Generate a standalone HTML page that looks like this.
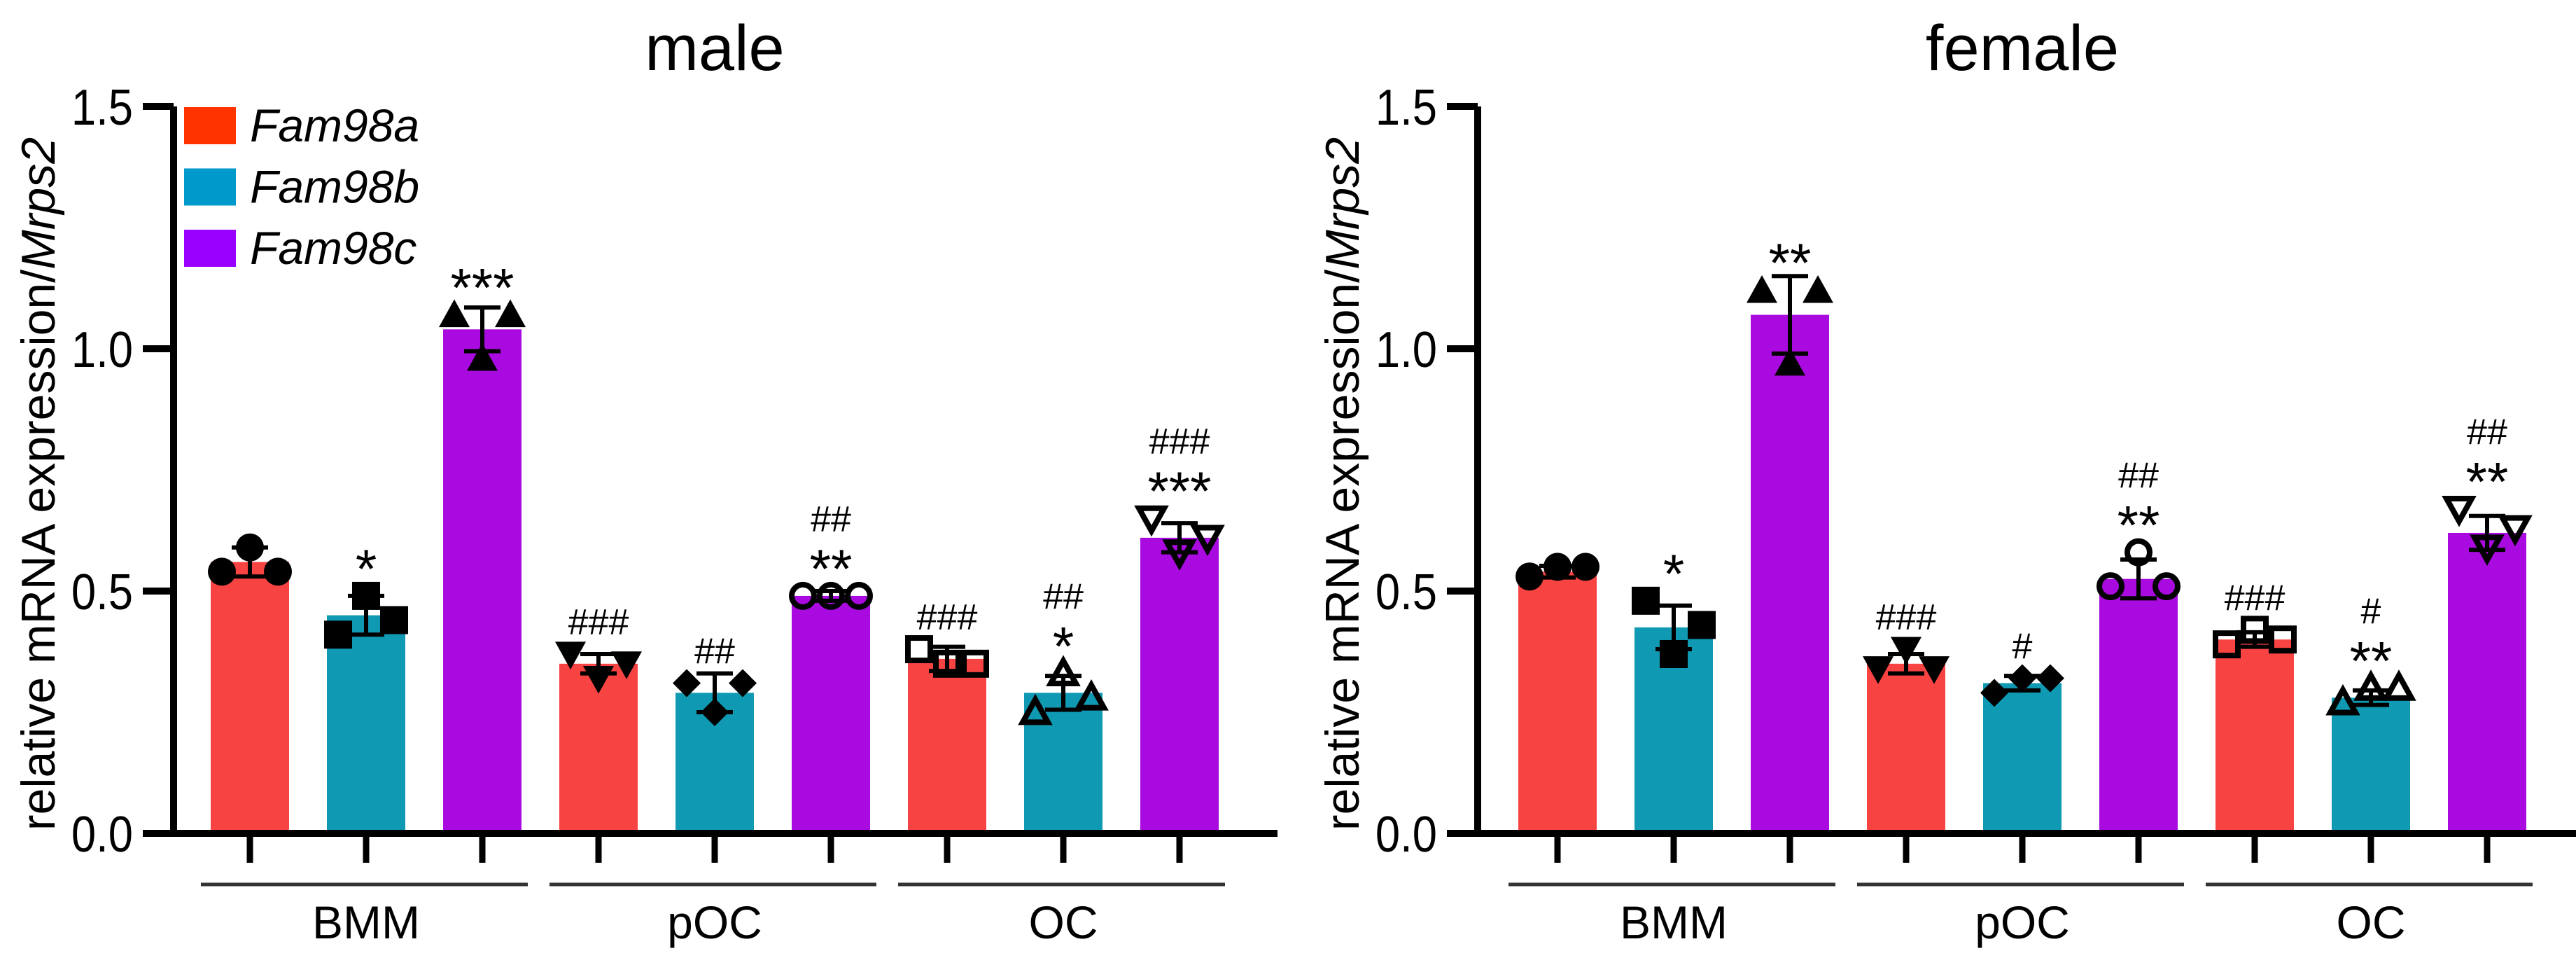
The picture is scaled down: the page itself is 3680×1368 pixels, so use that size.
<!DOCTYPE html>
<html><head><meta charset="utf-8"><style>
html,body{margin:0;padding:0;background:#fff}
svg{display:block}
text{font-family:"Liberation Sans",sans-serif}
</style></head><body>
<svg id="chart" width="3680" height="1368" viewBox="0 0 3680 1368" xmlns="http://www.w3.org/2000/svg"></svg>
<script>
const categories = ["BMM","BMM","BMM","pOC","pOC","pOC","OC","OC","OC"];
const genes = ["Fam98a","Fam98b","Fam98c"];
const groups = ["BMM","pOC","OC"];
const yTicks = [0.0,0.5,1.0,1.5];
const yTickLabels = ["0.0","0.5","1.0","1.5"];
const maleMeans = [0.56,0.45,1.04,0.35,0.29,0.49,0.36,0.29,0.61];
const maleSd = [0.03,0.04,0.045,0.02,0.04,0.01,0.025,0.035,0.03];
const malePoints = [[0.54,0.59,0.54],[0.41,0.49,0.44],[1.07,0.98,1.07],[0.37,0.32,0.35],[0.31,0.25,0.31],[0.49,0.49,0.49],[0.38,0.35,0.35],[0.25,0.33,0.28],[0.65,0.58,0.61]];
const maleStars = ["","*","***","","","**","","*","***"];
const maleHash = ["","","","###","##","##","###","##","###"];
const femaleMeans = [0.54,0.425,1.07,0.35,0.31,0.525,0.40,0.28,0.62];
const femaleSd = [0.012,0.045,0.08,0.02,0.015,0.04,0.015,0.015,0.035];
const femalePoints = [[0.53,0.55,0.55],[0.48,0.37,0.43],[1.12,0.97,1.12],[0.34,0.38,0.34],[0.29,0.32,0.32],[0.51,0.58,0.51],[0.39,0.42,0.40],[0.27,0.30,0.30],[0.67,0.59,0.63]];
const femaleStars = ["","*","**","","","**","","**","**"];
const femaleHash = ["","","","###","#","##","###","#","##"];

const NS="http://www.w3.org/2000/svg";
const svg=document.getElementById('chart');
function el(tag,attrs,parent){const e=document.createElementNS(NS,tag);for(const k in attrs)e.setAttribute(k,attrs[k]);(parent||svg).appendChild(e);return e;}
const barColors=["#f84343","#1099b3","#a90ae0"];
const legendColors=["#ff3300","#0099cc","#9900ff"];
const markerShapes=["circle","square","triUp","triDown","diamond","circleO","squareO","triUpO","triDownO"];

function marker(g,shape,x,y){
  const s=20; const fill=shape.endsWith("O")?"none":"#000"; const sw=shape.endsWith("O")?8:0;
  const base=shape.replace("O","");
  let m;
  if(base==="circle"){m=el('circle',{cx:x,cy:y,r:s-(sw/2),fill:fill,stroke:"#000","stroke-width":sw},g);}
  else if(base==="square"){const h=s-sw/2;m=el('rect',{x:x-h,y:y-h,width:2*h,height:2*h,fill:fill,stroke:"#000","stroke-width":sw},g);}
  else if(base==="triUp"){const h=s+2-sw/2;m=el('polygon',{points:`${x},${y-h} ${x+h},${y+h*0.8} ${x-h},${y+h*0.8}`,fill:fill,stroke:"#000","stroke-width":sw},g);}
  else if(base==="triDown"){const h=s+2-sw/2;m=el('polygon',{points:`${x},${y+h} ${x+h},${y-h*0.8} ${x-h},${y-h*0.8}`,fill:fill,stroke:"#000","stroke-width":sw},g);}
  else {m=el('polygon',{points:`${x},${y-s} ${x+s},${y} ${x},${y+s} ${x-s},${y}`,fill:fill},g);}
  
  
}

function panel(name,title,axisX,firstX,means,sds,points,stars,hashes,legend){
  const g=el('g',{});
  
  
  const y0=1190,y1=152,step=166,bw=112;
  const yS=v=>y0-(v/1.5)*(y0-y1);
  const xS=i=>firstX+i*step;
  const xEnd=xS(8)+140;
  const t=el('text',{x:xS(4),y:100,'font-size':92,'text-anchor':'middle',fill:'#000'},g);t.textContent=title;
  
  means.forEach((m,i)=>{
    const r=el('rect',{x:xS(i)-bw/2,y:yS(m),width:bw,height:y0-yS(m),fill:barColors[i%3]},g);
    
    
  });
  means.forEach((m,i)=>{
    const x=xS(i),a=yS(m+sds[i]),b=yS(m-sds[i]);
    const e=el('path',{d:`M${x} ${a}V${b}M${x-26} ${a}H${x+26}M${x-26} ${b}H${x+26}`,stroke:'#000','stroke-width':6,fill:'none'},g);
    
    
  });
  points.forEach((p,i)=>{p.forEach((v,j)=>marker(g,markerShapes[i],xS(i)+(j-1)*40,yS(v)));});
  means.forEach((m,i)=>{
    const top2=Math.min(yS(m+sds[i]),...points[i].map(v=>yS(v)-20));
    let base=top2-8;
    if(stars[i]){const s=el('text',{x:xS(i),y:base+16,'font-size':78,'text-anchor':'middle',fill:'#000'},g);s.textContent=stars[i];
      base-=64;}
    if(hashes[i]){const h=el('text',{x:xS(i),y:base,'font-size':52,'text-anchor':'middle',fill:'#000'},g);h.textContent=hashes[i];
      }
  });
  const ax=el('path',{d:`M${axisX} ${y1}V${y0+5}M${axisX-44} ${y0}H${xEnd}`,stroke:'#000','stroke-width':10,fill:'none'},g);
  
  yTicks.forEach((v,k)=>{
    const tk=el('line',{x1:axisX-44,x2:axisX,y1:yS(v),y2:yS(v),stroke:'#000','stroke-width':10},g);
    
    const tl=el('text',{x:axisX-58,y:yS(v)+26,'font-size':72,'text-anchor':'end',fill:'#000','transform':`translate(${axisX-58} 0) scale(0.88 1) translate(${-(axisX-58)} 0)`},g);
    tl.textContent=yTickLabels[k];
  });
  categories.forEach((c,i)=>{
    const tk=el('line',{x1:xS(i),x2:xS(i),y1:y0,y2:y0+42,stroke:'#000','stroke-width':9},g);
    
  });
  groups.forEach((gr,k)=>{
    const xa=xS(k*3)-70,xb=xS(k*3+2)+65;
    const ln=el('line',{x1:xa,x2:xb,y1:1263,y2:1263,stroke:'#333','stroke-width':5},g);
    
    const gl=el('text',{x:xS(k*3+1),y:1340,'font-size':66,'text-anchor':'middle',fill:'#000'},g);
    gl.textContent=gr;
  });
  const cy=(y0+y1)/2+20;
  const yt=el('text',{x:0,y:0,'font-size':68,'text-anchor':'middle',fill:'#000',transform:`translate(${axisX-170} ${cy}) rotate(-90)`},g);
  
  yt.appendChild(document.createTextNode('relative mRNA expression/'));
  const it=el('tspan',{'font-style':'italic'},yt);it.textContent='Mrps2';
  if(legend){
    genes.forEach((gn,k)=>{
      const ly=153+k*87.5;
      const sq=el('rect',{x:263,y:ly,width:74,height:53,fill:legendColors[k]},g);
      
      const lt=el('text',{x:357,y:ly+49,'font-size':66,'font-style':'italic',fill:'#000'},g);
      lt.textContent=gn;
    });
  }
}
panel('male','male',248,357,maleMeans,maleSd,malePoints,maleStars,maleHash,true);
panel('female','female',2111,2225,femaleMeans,femaleSd,femalePoints,femaleStars,femaleHash,false);
</script>
</body></html>
